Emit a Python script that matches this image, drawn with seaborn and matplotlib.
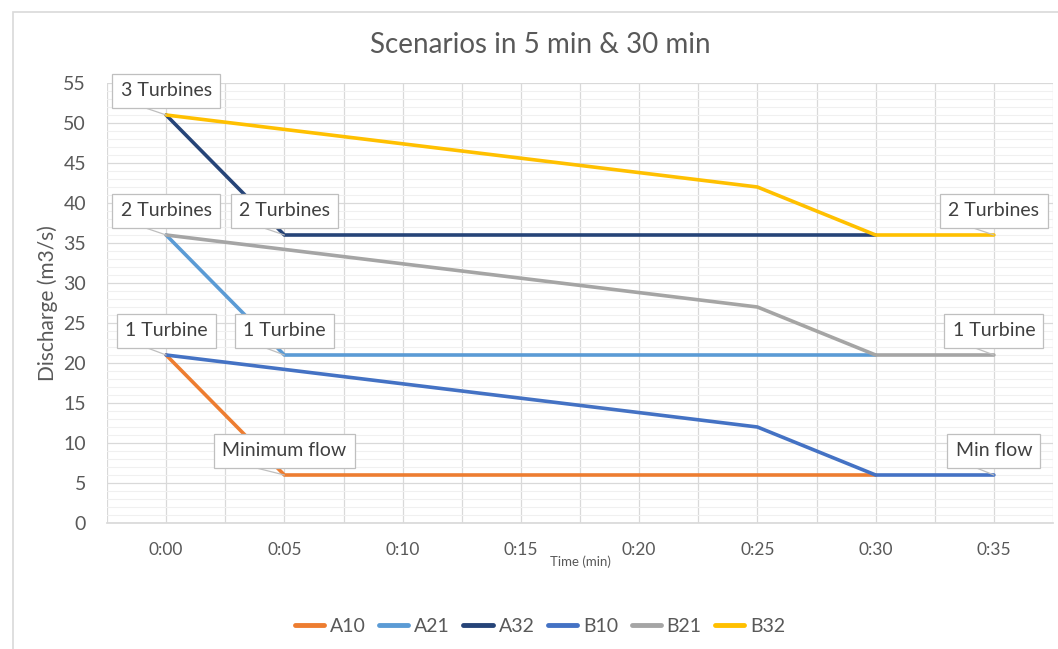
import matplotlib
matplotlib.use("Agg")
import matplotlib.pyplot as plt
import matplotlib.patches as mpatches
import numpy as np
import pandas as pd
import seaborn as sns

# Time steps (minutes) and their tick labels
minutes = [0, 5, 10, 15, 20, 25, 30, 35]
tick_labels = ["0:00", "0:05", "0:10", "0:15", "0:20", "0:25", "0:30", "0:35"]

# Discharge per scenario (m3/s); None = no value at that step
a10 = [21, 6, 6, 6, 6, 6, 6, None]
a21 = [36, 21, 21, 21, 21, 21, 21, None]
a32 = [51, 36, 36, 36, 36, 36, 36, None]
b10 = [21, 19.2, 17.4, 15.6, 13.8, 12, 6, 6]
b21 = [36, 34.2, 32.4, 30.6, 28.8, 27, 21, 21]
b32 = [51, 49.2, 47.4, 45.6, 43.8, 42, 36, 36]

series_names = ["A10", "A21", "A32", "B10", "B21", "B32"]
series_values = [a10, a21, a32, b10, b21, b32]
colors = ["#ED7D31", "#5B9BD5", "#264478", "#4472C4", "#A5A5A5", "#FFC000"]

# Callout labels: text, point (minute, discharge)
callout_texts = ["3 Turbines", "2 Turbines", "2 Turbines", "1 Turbine", "1 Turbine",
                 "Minimum flow", "2 Turbines", "1 Turbine", "Min flow"]
callout_x = [0, 0, 5, 0, 5, 5, 35, 35, 35]
callout_y = [51, 36, 36, 21, 21, 6, 36, 21, 6]

rows = []
for name, vals in zip(series_names, series_values):
    for m, v in zip(minutes, vals):
        if v is not None:
            rows.append({"minute": m, "flow": v, "series": name})
df = pd.DataFrame(rows)

sns.set_theme(style="white")
plt.rcParams["font.family"] = ["Lato", "DejaVu Sans"]

fig = plt.figure(figsize=(10.58, 6.49), dpi=100)
ax = fig.add_axes([107 / 1058, 1 - 523 / 649, (1053 - 107) / 1058, (523 - 83) / 649])

# Outer chart border
fig.patches.append(mpatches.Rectangle((13 / 1058, -0.05), 1.1, 1 - 12 / 649 + 0.05,
                                      transform=fig.transFigure, fill=False,
                                      edgecolor="#d9d9d9", linewidth=1.2, zorder=0))

sns.lineplot(data=df, x="minute", y="flow", hue="series", hue_order=series_names,
             palette=colors, linewidth=2.6, sort=False, ax=ax, zorder=3)

ax.set_xlim(-2.5, 37.5)
ax.set_ylim(0, 55)
ax.set_xticks(minutes)
ax.set_xticklabels(tick_labels)
ax.set_xticks(np.arange(-2.5, 40, 5), minor=True)
ax.set_yticks(np.arange(0, 56, 5))
ax.set_yticks(np.arange(0, 56, 1), minor=True)

ax.grid(True, which="major", color="#d9d9d9", linewidth=0.9, zorder=0)
ax.grid(True, which="minor", axis="y", color="#f0f0f0", linewidth=0.8, zorder=0)
ax.grid(True, which="minor", axis="x", color="#d9d9d9", linewidth=0.9, zorder=0)
ax.set_axisbelow(True)
for side in ["top", "right", "left"]:
    ax.spines[side].set_visible(False)
ax.spines["bottom"].set_color("#d9d9d9")
ax.tick_params(axis="both", which="both", length=0, colors="#595959")
ax.tick_params(axis="y", labelsize=14, pad=15)
ax.tick_params(axis="x", labelsize=12.5, pad=14)

ax.set_ylabel("Discharge (m3/s)", fontsize=15, color="#595959", labelpad=4)
ax.set_xlabel("Time (min)", fontsize=9.5, color="#595959", labelpad=-2)

fig.text(540 / 1058, 1 - 45 / 649, "Scenarios in 5 min & 30 min", ha="center",
         va="center", fontsize=20, color="#595959")

# Callouts
for txt, px, py in zip(callout_texts, callout_x, callout_y):
    ax.annotate(txt, xy=(px, py), xytext=(px, py + 3.0), ha="center", va="center",
                fontsize=14, color="#404040", zorder=5,
                bbox=dict(boxstyle="square,pad=0.42", fc="white", ec="#bfbfbf", lw=0.9),
                arrowprops=dict(arrowstyle="-", color="#bfbfbf", lw=0.9,
                                relpos=(0.0, 0.0), shrinkA=0, shrinkB=0))

sns.move_legend(ax, "center", bbox_to_anchor=(540 / 1058, 1 - 626 / 649),
                bbox_transform=fig.transFigure, ncol=6, frameon=False, title=None,
                fontsize=14, handlelength=1.5, columnspacing=0.7, handletextpad=0.3)
for t in ax.get_legend().get_texts():
    t.set_color("#595959")
for h in ax.get_legend().legend_handles:
    h.set_linewidth(3.5)

fig.savefig("out.png", dpi=100)
